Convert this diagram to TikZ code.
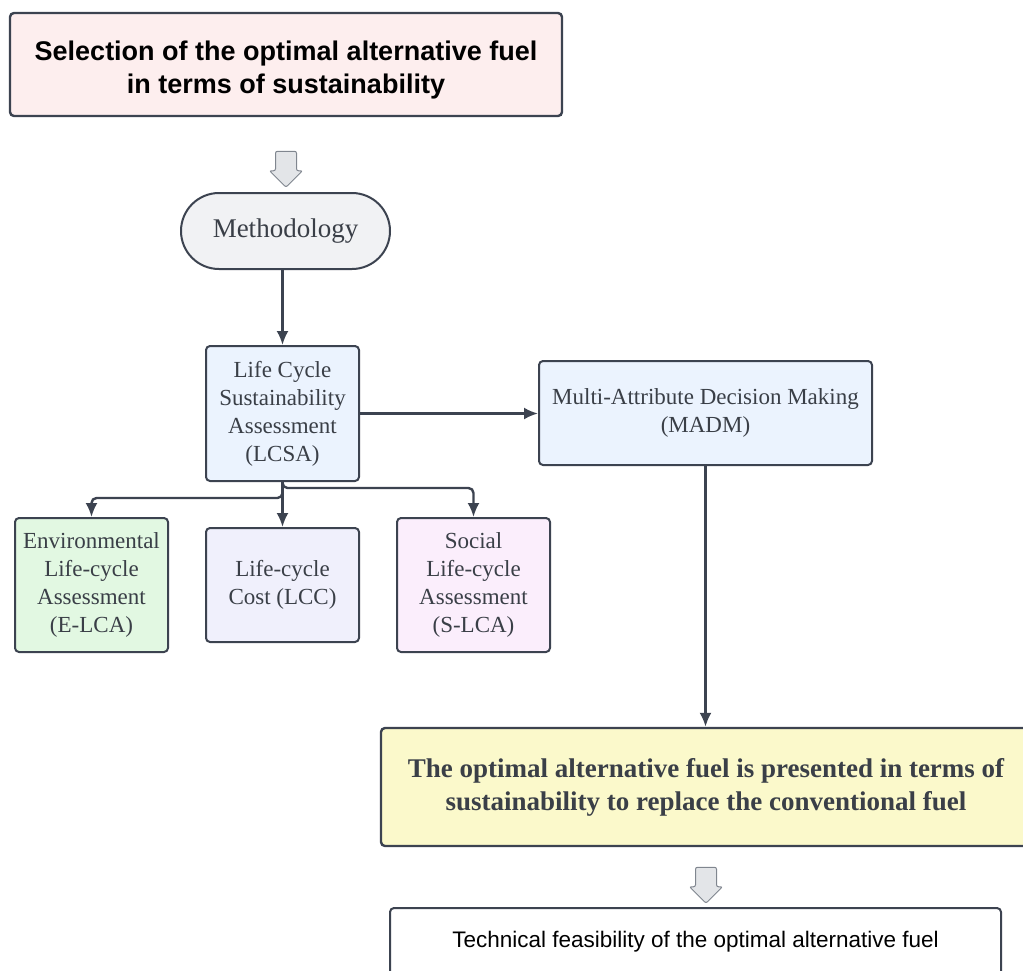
\documentclass[tikz,border=0pt]{standalone}
\usepackage{fontspec}
\setmainfont{Liberation Serif}
\newfontfamily\headfont{Liberation Sans}
\usetikzlibrary{shapes.arrows, arrows.meta}
\definecolor{edge}{HTML}{3C4350}
\definecolor{ink}{HTML}{3A3F47}
\definecolor{pinkfill}{HTML}{FDEEEE}
\definecolor{greyfill}{HTML}{F1F2F4}
\definecolor{bluefill}{HTML}{EBF3FE}
\definecolor{greenfill}{HTML}{E2F8E2}
\definecolor{lavfill}{HTML}{F0F0FC}
\definecolor{rosefill}{HTML}{FBEEFC}
\definecolor{yellowfill}{HTML}{FBF9CB}
\definecolor{hollow}{HTML}{E3E5E8}
\definecolor{hollowedge}{HTML}{80868F}
\begin{document}
\begin{tikzpicture}[x=1pt, y=-1pt, line width=2pt,
    main/.style = {draw=edge, rounded corners=4pt, align=center, text=ink, inner sep=0pt,
        font=\fontsize{23}{28}\selectfont},
    big/.style = {font=\fontsize{27}{33}\selectfont},
    link/.style = {draw=edge, line width=2.4pt, -{Latex[length=14pt, width=12pt]}},
    hollowarrow/.style = {single arrow, draw=hollowedge, fill=hollow, line width=1pt,
        rounded corners=2pt, minimum height=36pt, inner sep=10pt,
        single arrow head extend=6pt, shape border rotate=270}]
    \useasboundingbox (0,0) rectangle (1023,970);

    \node[main, big, fill=pinkfill, text=black, minimum width=552pt, minimum height=103pt, line width=2.4pt,
        font=\headfont\bfseries\fontsize{27}{33}\selectfont] (1) at (286,64.5)
        {\rule{0pt}{30pt}Selection of the optimal alternative fuel\\in terms of sustainability};
    \node[hollowarrow] (a1) at (286,164) {};
    \node[main, big, fill=greyfill, rounded corners=38pt, minimum width=209pt, minimum height=76pt] (2) at (285.5,231) {Methodology};
    \node[main, fill=bluefill, minimum width=153pt, minimum height=135pt] (3) at (282.5,413.5)
        {Life Cycle\\Sustainability\\Assessment\\(LCSA)};
    \node[main, fill=bluefill, minimum width=333pt, minimum height=104pt] (4) at (705.5,413)
        {Multi-Attribute Decision Making\\(MADM)};
    \node[main, fill=greenfill, minimum width=153pt, minimum height=134pt] (5) at (91.5,585)
        {Environmental\\Life-cycle\\Assessment\\(E-LCA)};
    \node[main, fill=lavfill, minimum width=153pt, minimum height=114pt] (6) at (282.5,585)
        {Life-cycle\\Cost (LCC)};
    \node[main, fill=rosefill, minimum width=153pt, minimum height=134pt] (7) at (473.5,585)
        {Social\\Life-cycle\\Assessment\\(S-LCA)};
    \node[main, fill=yellowfill, minimum width=650pt, minimum height=118pt, line width=2.4pt,
        font=\bfseries\fontsize{27}{33}\selectfont] (8) at (706,787)
        {The optimal alternative fuel is presented in terms of\\sustainability to replace the conventional fuel};
    \node[hollowarrow] (a2) at (706,880) {};
    \node[main, fill=white, text=black, minimum width=611pt, minimum height=84pt, text depth=22pt,
        font=\headfont\fontsize{22.5}{28}\selectfont] (9) at (695.5,950)
        {Technical feasibility of the optimal alternative fuel};

    \draw[link] (3.north |- 2.south) -- (3.north);
    \draw[link] (3.east) -- (4.west |- 3.east);
    \draw[link] (4) -- (4 |- 8.north);
    \draw[link] (3) -- (6);
    \draw[link, rounded corners=5pt] (3.south) -- ++(0,16) -| (5.north);
    \draw[link, rounded corners=5pt] (3.south) -- ++(0,6) -| (7.north);
\end{tikzpicture}
\end{document}
